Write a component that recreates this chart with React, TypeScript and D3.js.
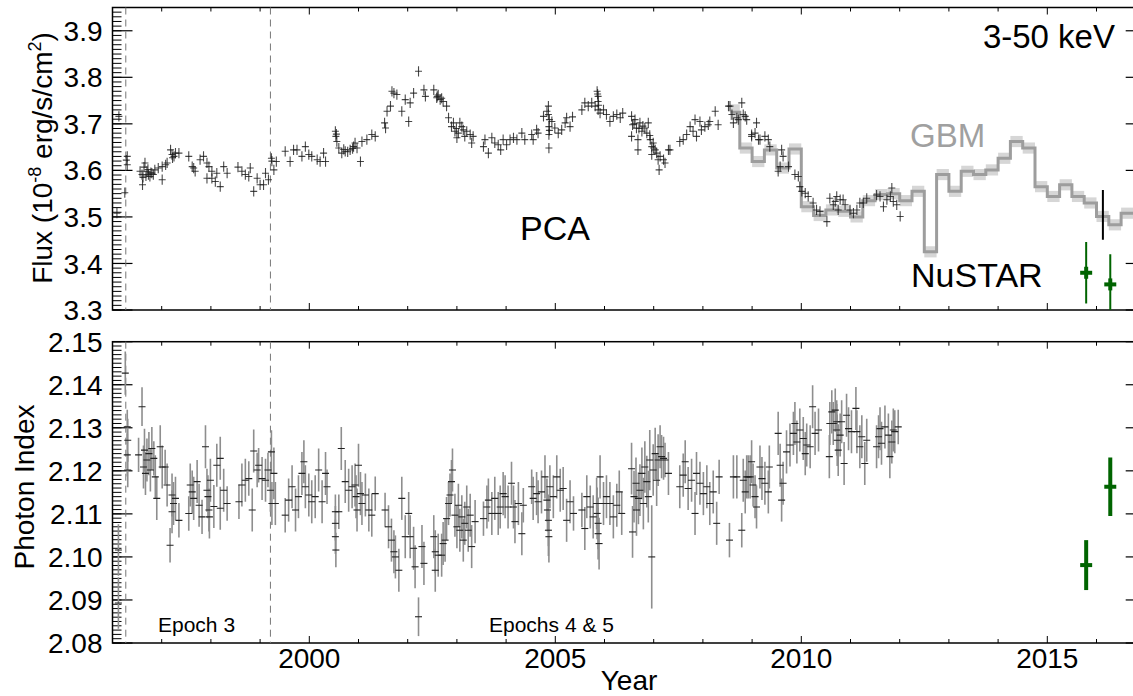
import React, { useEffect, useRef } from 'react';
import * as d3 from 'd3';

const W = 1133;
const H = 696;
const FONT = '"Liberation Sans", Arial, Helvetica, sans-serif';

// PCA 3-50 keV flux: [year, flux (1e-8 erg/s/cm2)]
const pcaFlux: [number, number][] = [
  [1996.13, 3.716], [1996.09, 3.508], [1996.30, 3.630], [1996.28, 3.622], [1996.30, 3.612], [1996.25, 3.552],
  [1996.56, 3.598], [1996.60, 3.591], [1996.61, 3.569], [1996.64, 3.607], [1996.66, 3.616], [1996.70, 3.598],
  [1996.73, 3.591], [1996.76, 3.587], [1996.80, 3.594], [1996.83, 3.591], [1996.86, 3.601], [1996.93, 3.605],
  [1997.01, 3.580], [1997.01, 3.608], [1997.08, 3.612], [1997.11, 3.616], [1996.62, 3.585], [1996.68, 3.588],
  [1996.72, 3.602], [1996.78, 3.595],
  [1997.18, 3.644], [1997.21, 3.634], [1997.25, 3.630], [1997.28, 3.637], [1997.35, 3.637], [1997.22, 3.627],
  [1997.55, 3.630], [1997.62, 3.608], [1997.65, 3.605], [1997.68, 3.598], [1997.78, 3.623], [1997.85, 3.630],
  [1997.92, 3.616], [1997.96, 3.608], [1997.92, 3.583], [1998.02, 3.583], [1998.09, 3.576], [1998.19, 3.565],
  [1998.02, 3.598], [1998.12, 3.594], [1998.26, 3.608], [1998.33, 3.594],
  [1998.55, 3.607], [1998.63, 3.598], [1998.70, 3.591], [1998.77, 3.587], [1998.80, 3.605], [1998.87, 3.555],
  [1998.94, 3.583], [1999.00, 3.569], [1999.07, 3.569], [1999.11, 3.594], [1999.17, 3.580], [1999.23, 3.626],
  [1999.24, 3.620], [1999.28, 3.601], [1999.33, 3.619],
  [1999.51, 3.641], [1999.61, 3.619], [1999.68, 3.644], [1999.75, 3.644], [1999.85, 3.630], [1999.92, 3.651],
  [1999.99, 3.634], [2000.05, 3.630], [2000.16, 3.623], [2000.22, 3.619], [2000.29, 3.637], [2000.33, 3.619],
  [2000.53, 3.684], [2000.54, 3.673], [2000.56, 3.662], [2000.55, 3.678], [2000.60, 3.648], [2000.66, 3.637],
  [2000.73, 3.641], [2000.83, 3.644], [2000.90, 3.651], [2000.93, 3.659], [2000.97, 3.648], [2001.04, 3.619],
  [2001.07, 3.662], [2001.17, 3.666], [2001.27, 3.677], [2001.34, 3.673], [2000.70, 3.645], [2000.78, 3.640],
  [2000.88, 3.647],
  [2001.53, 3.702], [2001.55, 3.691], [2001.58, 3.727], [2001.65, 3.738], [2001.68, 3.770], [2001.72, 3.766],
  [2001.78, 3.763], [2001.88, 3.727], [2001.95, 3.752], [2002.02, 3.705], [2002.05, 3.745], [2002.12, 3.766],
  [2002.22, 3.813], [2002.33, 3.773], [2002.36, 3.759], [2002.53, 3.773], [2002.60, 3.759], [2002.66, 3.752],
  [2002.59, 3.756], [2002.72, 3.748], [2002.79, 3.738], [2002.83, 3.713], [2002.89, 3.694], [2002.93, 3.702],
  [2002.96, 3.684], [2003.00, 3.670], [2003.06, 3.702], [2003.10, 3.694], [2003.13, 3.687], [2003.16, 3.673],
  [2003.20, 3.684], [2003.27, 3.677], [2003.30, 3.659], [2003.33, 3.673], [2002.62, 3.762], [2002.69, 3.755],
  [2002.99, 3.690], [2003.03, 3.680],
  [2003.54, 3.651], [2003.57, 3.666], [2003.64, 3.637], [2003.71, 3.670], [2003.77, 3.659], [2003.84, 3.655],
  [2003.89, 3.644], [2003.94, 3.666], [2004.01, 3.655], [2004.08, 3.666], [2004.15, 3.670], [2004.22, 3.666],
  [2004.32, 3.680], [2004.38, 3.666], [2004.52, 3.677], [2004.55, 3.666], [2004.62, 3.687], [2004.65, 3.680],
  [2004.76, 3.716], [2004.83, 3.727], [2004.86, 3.738], [2004.88, 3.709], [2004.87, 3.694], [2004.87, 3.677],
  [2004.87, 3.648], [2004.86, 3.720], [2004.88, 3.686], [2004.93, 3.705], [2004.99, 3.691], [2005.06, 3.680],
  [2005.13, 3.687], [2005.20, 3.702], [2005.23, 3.713], [2005.30, 3.694], [2005.35, 3.715],
  [2005.54, 3.730], [2005.60, 3.745], [2005.67, 3.738], [2005.74, 3.745], [2005.81, 3.738], [2005.85, 3.770],
  [2005.87, 3.759], [2005.87, 3.748], [2005.87, 3.730], [2005.86, 3.764], [2005.88, 3.740], [2005.91, 3.723],
  [2005.98, 3.730], [2006.04, 3.720], [2006.11, 3.705], [2006.18, 3.716], [2006.25, 3.720], [2006.32, 3.713],
  [2006.37, 3.723],
  [2006.55, 3.716], [2006.57, 3.698], [2006.55, 3.673], [2006.62, 3.709], [2006.65, 3.691], [2006.68, 3.666],
  [2006.68, 3.644], [2006.72, 3.702], [2006.76, 3.684], [2006.82, 3.691], [2006.86, 3.680], [2006.89, 3.702],
  [2006.93, 3.666], [2006.96, 3.651], [2006.99, 3.659], [2006.96, 3.634], [2007.03, 3.644], [2007.06, 3.637],
  [2007.09, 3.623], [2007.11, 3.601], [2007.13, 3.630], [2007.20, 3.623], [2007.23, 3.616], [2007.30, 3.644],
  [2007.33, 3.644], [2006.60, 3.700], [2006.70, 3.690], [2006.78, 3.695], [2006.92, 3.675], [2007.00, 3.648],
  [2007.53, 3.662], [2007.60, 3.666], [2007.67, 3.677], [2007.74, 3.694], [2007.80, 3.684], [2007.84, 3.709],
  [2007.87, 3.673], [2007.94, 3.705], [2007.97, 3.687], [2008.04, 3.694], [2008.11, 3.698], [2008.14, 3.705],
  [2008.25, 3.727], [2008.31, 3.698],
  [2008.52, 3.738], [2008.55, 3.738], [2008.59, 3.720], [2008.62, 3.702], [2008.69, 3.713], [2008.72, 3.709],
  [2008.79, 3.745], [2008.82, 3.720], [2008.86, 3.716], [2008.89, 3.709], [2008.99, 3.673], [2008.99, 3.677],
  [2009.06, 3.680], [2009.09, 3.702], [2009.13, 3.666], [2009.16, 3.666], [2009.26, 3.673], [2009.33, 3.666],
  [2009.36, 3.651],
  [2009.53, 3.598], [2009.57, 3.608], [2009.60, 3.644], [2009.63, 3.630], [2009.74, 3.608], [2009.87, 3.591],
  [2009.94, 3.587], [2009.97, 3.565], [2010.01, 3.555], [2010.08, 3.551], [2010.14, 3.544], [2010.24, 3.530],
  [2010.31, 3.515], [2010.38, 3.512],
  [2010.52, 3.490], [2010.58, 3.540], [2010.65, 3.526], [2010.69, 3.533], [2010.72, 3.544], [2010.75, 3.515],
  [2010.79, 3.537], [2010.85, 3.537], [2010.89, 3.526], [2010.99, 3.515], [2011.06, 3.508], [2011.13, 3.515],
  [2011.19, 3.530], [2011.26, 3.530], [2011.33, 3.540], [2011.53, 3.547], [2011.60, 3.544], [2011.67, 3.522],
  [2011.74, 3.537], [2011.81, 3.544], [2011.84, 3.562], [2011.87, 3.533], [2011.94, 3.526], [2012.01, 3.501],
];
const pcaFluxErr = 0.011;

// PCA photon index: [year, index, error]
const pcaIndex: [number, number, number][] = [
  [1996.12, 2.1016, 0.006], [1996.12, 2.0893, 0.006], [1996.26, 2.1427, 0.005],
  [1996.30, 2.1302, 0.004], [1996.31, 2.1271, 0.005], [1996.30, 2.1237, 0.005], [1996.31, 2.1202, 0.004],
  [1996.53, 2.1237, 0.004], [1996.60, 2.1349, 0.0045], [1996.63, 2.1209, 0.005], [1996.65, 2.1248, 0.005],
  [1996.67, 2.1194, 0.005], [1996.70, 2.1225, 0.005], [1996.74, 2.1240, 0.005], [1996.77, 2.1202, 0.005],
  [1996.80, 2.1252, 0.005], [1996.84, 2.1229, 0.004], [1996.87, 2.1186, 0.005], [1996.90, 2.1136, 0.005],
  [1996.97, 2.1256, 0.005], [1997.01, 2.1209, 0.005], [1997.07, 2.1209, 0.004], [1997.11, 2.1167, 0.005],
  [1997.17, 2.1027, 0.004], [1997.21, 2.1144, 0.005], [1997.21, 2.1105, 0.005], [1997.24, 2.1124, 0.005],
  [1997.28, 2.1136, 0.005], [1997.35, 2.1085, 0.004],
  [1997.55, 2.1101, 0.004], [1997.58, 2.1167, 0.005], [1997.62, 2.1151, 0.005], [1997.65, 2.1136, 0.005],
  [1997.72, 2.1175, 0.005], [1997.76, 2.1120, 0.005], [1997.82, 2.1093, 0.004], [1997.89, 2.1256, 0.005],
  [1997.92, 2.1155, 0.005], [1997.94, 2.1140, 0.005], [1997.96, 2.1109, 0.005], [1997.97, 2.1093, 0.005],
  [1997.99, 2.1178, 0.005], [1998.06, 2.1117, 0.005], [1998.12, 2.1213, 0.005], [1998.19, 2.1229, 0.005],
  [1998.19, 2.1113, 0.005], [1998.26, 2.1155, 0.005], [1998.33, 2.1124, 0.004],
  [1998.57, 2.1128, 0.004], [1998.63, 2.1167, 0.005], [1998.70, 2.1178, 0.005], [1998.77, 2.1182, 0.004],
  [1998.84, 2.1109, 0.005], [1998.87, 2.1246, 0.005], [1998.94, 2.1202, 0.004], [1998.97, 2.1213, 0.004],
  [1999.04, 2.1182, 0.005], [1999.11, 2.1178, 0.005], [1999.16, 2.1202, 0.004], [1999.21, 2.1155, 0.005],
  [1999.24, 2.1124, 0.005], [1999.28, 2.1194, 0.006], [1999.31, 2.1124, 0.005], [1999.23, 2.1244, 0.005],
  [1999.51, 2.1097, 0.004], [1999.58, 2.1132, 0.005], [1999.65, 2.1163, 0.005], [1999.72, 2.1109, 0.005],
  [1999.78, 2.1140, 0.005], [1999.85, 2.1194, 0.005], [1999.89, 2.1221, 0.005], [1999.92, 2.1163, 0.005],
  [1999.99, 2.1144, 0.005], [2000.05, 2.1128, 0.005], [2000.12, 2.1140, 0.005], [2000.19, 2.1202, 0.005],
  [2000.26, 2.1128, 0.005], [2000.33, 2.1194, 0.005], [2000.36, 2.1163, 0.004],
  [2000.53, 2.1105, 0.004], [2000.53, 2.1078, 0.004], [2000.53, 2.1047, 0.004], [2000.54, 2.1016, 0.004],
  [2000.60, 2.1105, 0.004], [2000.65, 2.1252, 0.005],
  [2000.73, 2.1175, 0.005], [2000.80, 2.1155, 0.005], [2000.87, 2.1163, 0.005], [2000.93, 2.1167, 0.005],
  [2000.95, 2.1140, 0.005], [2000.97, 2.1109, 0.005], [2001.00, 2.1213, 0.005], [2001.04, 2.1147, 0.005],
  [2001.07, 2.1124, 0.005], [2001.14, 2.1144, 0.005], [2001.21, 2.1109, 0.005], [2001.27, 2.1097, 0.005],
  [2001.34, 2.1147, 0.004],
  [2001.54, 2.1109, 0.004], [2001.61, 2.1070, 0.005], [2001.67, 2.1039, 0.005], [2001.72, 2.1012, 0.005],
  [2001.75, 2.1000, 0.005], [2001.82, 2.0969, 0.005], [2001.88, 2.1136, 0.005], [2001.95, 2.1047, 0.005],
  [2002.02, 2.1101, 0.005], [2002.05, 2.1047, 0.005], [2002.12, 2.1020, 0.005], [2002.15, 2.0977, 0.005],
  [2002.22, 2.0861, 0.0045], [2002.29, 2.1024, 0.005], [2002.33, 2.0985, 0.005], [2002.53, 2.1047, 0.005],
  [2002.56, 2.1012, 0.005], [2002.56, 2.0969, 0.005], [2002.62, 2.1004, 0.005], [2002.69, 2.1004, 0.005],
  [2002.72, 2.1031, 0.005], [2002.76, 2.1039, 0.005], [2002.79, 2.1089, 0.005], [2002.83, 2.1124, 0.005],
  [2002.86, 2.1144, 0.005], [2002.89, 2.1175, 0.005], [2002.91, 2.1202, 0.005], [2002.96, 2.1097, 0.005],
  [2003.00, 2.1070, 0.005], [2003.03, 2.1120, 0.005], [2003.06, 2.1062, 0.005], [2003.10, 2.1093, 0.005],
  [2003.13, 2.1039, 0.005], [2003.16, 2.1078, 0.005], [2003.20, 2.1116, 0.005], [2003.23, 2.1062, 0.005],
  [2003.27, 2.1097, 0.005], [2003.30, 2.1024, 0.005], [2003.37, 2.1082, 0.005],
  [2003.54, 2.1089, 0.004], [2003.61, 2.1116, 0.005], [2003.64, 2.1132, 0.005], [2003.71, 2.1101, 0.005],
  [2003.77, 2.1136, 0.005], [2003.84, 2.1101, 0.005], [2003.88, 2.1116, 0.005], [2003.94, 2.1147, 0.005],
  [2003.98, 2.1140, 0.005], [2004.04, 2.1116, 0.005], [2004.11, 2.1171, 0.005], [2004.15, 2.1116, 0.005],
  [2004.18, 2.1082, 0.005], [2004.25, 2.1124, 0.005], [2004.32, 2.1054, 0.005], [2004.35, 2.1120, 0.004],
  [2004.52, 2.1163, 0.004], [2004.55, 2.1136, 0.005], [2004.62, 2.1147, 0.005], [2004.65, 2.1128, 0.005],
  [2004.72, 2.1151, 0.005], [2004.79, 2.1186, 0.005], [2004.83, 2.1132, 0.005], [2004.84, 2.1109, 0.005],
  [2004.86, 2.1085, 0.006], [2004.86, 2.1062, 0.006], [2004.87, 2.1047, 0.006], [2004.89, 2.1163, 0.005],
  [2004.96, 2.1140, 0.005], [2005.03, 2.1186, 0.005], [2005.10, 2.1155, 0.005], [2005.16, 2.1159, 0.005],
  [2005.23, 2.1085, 0.005], [2005.30, 2.1128, 0.005], [2005.37, 2.1101, 0.004],
  [2005.54, 2.1109, 0.004], [2005.60, 2.1066, 0.005], [2005.64, 2.1140, 0.005], [2005.71, 2.1116, 0.005],
  [2005.77, 2.1093, 0.005], [2005.84, 2.1124, 0.006], [2005.85, 2.1101, 0.006], [2005.87, 2.1078, 0.006],
  [2005.87, 2.1054, 0.006], [2005.89, 2.1031, 0.006], [2005.91, 2.1186, 0.005], [2005.98, 2.1124, 0.005],
  [2006.04, 2.1140, 0.005], [2006.11, 2.1124, 0.005], [2006.18, 2.1093, 0.005], [2006.25, 2.1120, 0.005],
  [2006.30, 2.1151, 0.005], [2006.35, 2.1101, 0.005],
  [2006.55, 2.1205, 0.006], [2006.57, 2.1058, 0.006], [2006.60, 2.1140, 0.006], [2006.64, 2.1171, 0.006],
  [2006.65, 2.1109, 0.006], [2006.69, 2.1136, 0.006], [2006.72, 2.1155, 0.006], [2006.76, 2.1194, 0.006],
  [2006.79, 2.1124, 0.006], [2006.82, 2.1209, 0.006], [2006.86, 2.1175, 0.006], [2006.89, 2.1140, 0.006],
  [2006.92, 2.1225, 0.007], [2006.96, 2.1000, 0.012], [2006.99, 2.1202, 0.006], [2007.03, 2.1240, 0.006],
  [2007.06, 2.1178, 0.006], [2007.09, 2.1225, 0.006], [2007.13, 2.1256, 0.005], [2007.16, 2.1233, 0.005],
  [2007.20, 2.1229, 0.005], [2007.23, 2.1225, 0.004], [2007.30, 2.1194, 0.005],
  [2007.53, 2.1163, 0.005], [2007.60, 2.1190, 0.005], [2007.64, 2.1221, 0.005], [2007.70, 2.1159, 0.005],
  [2007.77, 2.1178, 0.005], [2007.84, 2.1101, 0.005], [2007.87, 2.1194, 0.005], [2007.94, 2.1171, 0.005],
  [2008.01, 2.1147, 0.005], [2008.08, 2.1163, 0.005], [2008.14, 2.1124, 0.005], [2008.21, 2.1151, 0.005],
  [2008.28, 2.1078, 0.005], [2008.33, 2.1186, 0.004],
  [2008.54, 2.1039, 0.004], [2008.62, 2.1186, 0.005], [2008.69, 2.1186, 0.005], [2008.79, 2.1062, 0.004],
  [2008.82, 2.1178, 0.005], [2008.86, 2.1151, 0.005], [2008.89, 2.1186, 0.005], [2008.92, 2.1186, 0.005],
  [2008.96, 2.1186, 0.005], [2008.99, 2.1221, 0.005], [2009.02, 2.1167, 0.005], [2009.06, 2.1140, 0.005],
  [2009.09, 2.1116, 0.005], [2009.16, 2.1209, 0.005], [2009.20, 2.1182, 0.005], [2009.26, 2.1171, 0.005],
  [2009.33, 2.1151, 0.005], [2009.35, 2.1209, 0.005],
  [2009.53, 2.1287, 0.005], [2009.57, 2.1213, 0.005], [2009.60, 2.1132, 0.005], [2009.63, 2.1171, 0.005],
  [2009.70, 2.1244, 0.005], [2009.77, 2.1260, 0.005], [2009.84, 2.1287, 0.005], [2009.87, 2.1310, 0.005],
  [2009.91, 2.1267, 0.005], [2009.97, 2.1295, 0.005], [2010.04, 2.1275, 0.005], [2010.08, 2.1240, 0.005],
  [2010.11, 2.1260, 0.005], [2010.18, 2.1256, 0.005], [2010.23, 2.1349, 0.005], [2010.28, 2.1287, 0.005],
  [2010.35, 2.1295, 0.005],
  [2010.57, 2.1233, 0.005], [2010.58, 2.1310, 0.005], [2010.62, 2.1337, 0.005], [2010.65, 2.1310, 0.005],
  [2010.69, 2.1341, 0.005], [2010.72, 2.1295, 0.006], [2010.73, 2.1271, 0.006], [2010.75, 2.1248, 0.006],
  [2010.72, 2.1314, 0.005], [2010.79, 2.1283, 0.005], [2010.82, 2.1314, 0.005], [2010.87, 2.1217, 0.005],
  [2010.92, 2.1329, 0.005], [2010.96, 2.1298, 0.005], [2011.02, 2.1291, 0.005], [2011.11, 2.1345, 0.005],
  [2011.13, 2.1291, 0.005], [2011.19, 2.1256, 0.005], [2011.23, 2.1279, 0.005], [2011.29, 2.1217, 0.005],
  [2011.33, 2.1271, 0.005],
  [2011.53, 2.1256, 0.005], [2011.57, 2.1279, 0.005], [2011.60, 2.1298, 0.005], [2011.63, 2.1264, 0.005],
  [2011.70, 2.1302, 0.005], [2011.77, 2.1283, 0.005], [2011.80, 2.1233, 0.005], [2011.84, 2.1267, 0.005],
  [2011.87, 2.1295, 0.005], [2011.90, 2.1291, 0.005], [2011.97, 2.1302, 0.004],
];

// GBM quarterly bins (edges in years) with flux and error
const gbmEdges = [
  2008.55, 2008.75, 2009.0, 2009.25, 2009.5, 2009.75, 2010.0, 2010.25, 2010.5, 2010.75, 2011.0, 2011.25,
  2011.5, 2011.75, 2012.0, 2012.25, 2012.5, 2012.75, 2013.0, 2013.25, 2013.5, 2013.75, 2014.0, 2014.25,
  2014.5, 2014.75, 2015.0, 2015.25, 2015.5, 2015.75, 2016.0, 2016.25, 2016.5, 2016.75, 2017.0,
];
const gbmFlux = [
  3.725, 3.648, 3.619, 3.644, 3.605, 3.646, 3.522, 3.503, 3.515, 3.512, 3.500, 3.535,
  3.548, 3.550, 3.535, 3.555, 3.425, 3.591, 3.555, 3.598, 3.591, 3.601, 3.626, 3.662,
  3.648, 3.565, 3.544, 3.569, 3.544, 3.530, 3.501, 3.483, 3.508, 3.508,
];
const gbmErr = [
  0.017, 0.012, 0.012, 0.012, 0.012, 0.012, 0.012, 0.012, 0.012, 0.012, 0.012, 0.012,
  0.012, 0.012, 0.012, 0.012, 0.012, 0.012, 0.012, 0.012, 0.012, 0.012, 0.012, 0.012,
  0.012, 0.012, 0.012, 0.012, 0.012, 0.012, 0.012, 0.012, 0.012, 0.012,
];
const gbmMarker = { year: 2016.13, lo: 3.451, hi: 3.558 };

// NuSTAR
const nustarYears = [2015.79, 2016.28];
const nustarFlux = [3.38, 3.355];
const nustarFluxErr = [0.066, 0.065];
const nustarIndex = [2.0981, 2.1163];
const nustarIndexErr = [0.0058, 0.0068];

const epochLines = [1996.27, 1999.21];
const fluxTicks = [3.3, 3.4, 3.5, 3.6, 3.7, 3.8, 3.9];
const indexTicks = [2.08, 2.09, 2.1, 2.11, 2.12, 2.13, 2.14, 2.15];
const yearTicks = [2000, 2005, 2010, 2015];

const App = () => {
  const svgRef = useRef<SVGSVGElement>(null);

  useEffect(() => {
    const svg = d3.select(svgRef.current);
    svg.selectAll('*').remove();

    const x = d3.scaleLinear().domain([1996, 2017]).range([112.5, 1145.7]);
    const yF = d3.scaleLinear().domain([3.3, 3.95]).range([310, 7.5]);
    const yI = d3.scaleLinear().domain([2.08, 2.15]).range([643, 341.7]);

    const defs = svg.append('defs');
    [['clipTop', yF], ['clipBot', yI]].forEach(([id, y]: any) => {
      const [b, t] = y.range();
      defs.append('clipPath').attr('id', id).append('rect')
        .attr('x', x.range()[0]).attr('y', t)
        .attr('width', x.range()[1] - x.range()[0]).attr('height', b - t);
    });

    const frame = (y: any, major: number[], minorStep: number, fmt: (v: number) => string, xLabels: boolean) => {
      const [x0, x1] = x.range();
      const [yb, yt] = y.range();
      const g = svg.append('g').attr('stroke', '#000');
      const years = d3.range(1996, 2018);
      [yb, yt].forEach((yy, k) => {
        const dir = k === 0 ? -1 : 1;
        g.selectAll(null).data(years).enter().append('line')
          .attr('x1', d => x(d)).attr('x2', d => x(d))
          .attr('y1', yy).attr('y2', d => yy + dir * (yearTicks.includes(d) ? 7 : 4))
          .attr('stroke-width', 1);
      });
      const [d0, d1] = y.domain();
      const minor = d3.range(Math.round((d1 - d0) / minorStep) + 1).map(i => d0 + i * minorStep);
      [x0, x1].forEach((xx, k) => {
        const dir = k === 0 ? 1 : -1;
        g.selectAll(null).data(minor).enter().append('line')
          .attr('x1', xx).attr('x2', xx + dir * 9)
          .attr('y1', d => y(d)).attr('y2', d => y(d)).attr('stroke-width', 1);
        g.selectAll(null).data(major).enter().append('line')
          .attr('x1', xx).attr('x2', xx + dir * 20)
          .attr('y1', d => y(d)).attr('y2', d => y(d)).attr('stroke-width', 1.2);
      });
      g.append('rect').attr('x', x0).attr('y', yt).attr('width', x1 - x0).attr('height', yb - yt)
        .attr('fill', 'none').attr('stroke-width', 1.5);
      svg.append('g').selectAll('text').data(major).enter().append('text')
        .attr('x', x0 - 10).attr('y', d => y(d)).attr('dy', '0.36em')
        .attr('text-anchor', 'end').attr('font-size', 28).attr('font-family', FONT)
        .text(fmt);
      if (xLabels) {
        svg.append('g').selectAll('text').data(yearTicks).enter().append('text')
          .attr('x', d => x(d)).attr('y', 668).attr('text-anchor', 'middle')
          .attr('font-size', 28).attr('font-family', FONT).text(d => String(d));
      }
      svg.append('g').selectAll('line').data(epochLines).enter().append('line')
        .attr('x1', d => x(d)).attr('x2', d => x(d)).attr('y1', yt).attr('y2', yb)
        .attr('stroke', '#777').attr('stroke-width', 1).attr('stroke-dasharray', '7,5');
    };

    frame(yF, fluxTicks, 0.01, d3.format('.1f'), false);
    frame(yI, indexTicks, 0.001, d3.format('.2f'), true);

    // --- top panel data
    const top = svg.append('g').attr('clip-path', 'url(#clipTop)');
    gbmFlux.forEach((f, i) => {
      top.append('rect')
        .attr('x', x(gbmEdges[i])).attr('width', x(gbmEdges[i + 1]) - x(gbmEdges[i]))
        .attr('y', yF(f + gbmErr[i])).attr('height', yF(f - gbmErr[i]) - yF(f + gbmErr[i]))
        .attr('fill', '#d6d6d6');
    });
    const stepPts: [number, number][] = gbmFlux.map((f, i) => [gbmEdges[i], f]);
    stepPts.push([gbmEdges[gbmEdges.length - 1], gbmFlux[gbmFlux.length - 1]]);
    top.append('path')
      .attr('d', d3.line<[number, number]>().x(d => x(d[0])).y(d => yF(d[1])).curve(d3.curveStepAfter)(stepPts))
      .attr('fill', 'none').attr('stroke', '#9d9d9d').attr('stroke-width', 3);

    const crosses = top.append('g').attr('stroke', '#1a1a1a').attr('stroke-opacity', 0.8).attr('stroke-width', 1.1);
    pcaFlux.forEach(([t, f]) => {
      crosses.append('line').attr('x1', x(t) - 3.5).attr('x2', x(t) + 3.5).attr('y1', yF(f)).attr('y2', yF(f));
      crosses.append('line').attr('x1', x(t)).attr('x2', x(t)).attr('y1', yF(f - pcaFluxErr)).attr('y2', yF(f + pcaFluxErr));
    });

    top.append('line')
      .attr('x1', x(gbmMarker.year)).attr('x2', x(gbmMarker.year))
      .attr('y1', yF(gbmMarker.lo)).attr('y2', yF(gbmMarker.hi))
      .attr('stroke', '#000').attr('stroke-width', 2);

    nustarYears.forEach((t, i) => {
      const cx = x(t), cy = yF(nustarFlux[i]);
      top.append('line').attr('x1', cx).attr('x2', cx)
        .attr('y1', yF(nustarFlux[i] - nustarFluxErr[i])).attr('y2', yF(nustarFlux[i] + nustarFluxErr[i]))
        .attr('stroke', '#006400').attr('stroke-width', 2);
      top.append('line').attr('x1', cx - 6).attr('x2', cx + 6).attr('y1', cy).attr('y2', cy)
        .attr('stroke', '#006400').attr('stroke-width', 4);
      top.append('line').attr('x1', cx).attr('x2', cx).attr('y1', cy - 6).attr('y2', cy + 6)
        .attr('stroke', '#006400').attr('stroke-width', 4);
    });

    // --- bottom panel data
    const bot = svg.append('g').attr('clip-path', 'url(#clipBot)');
    pcaIndex.forEach(([t, v, e]) => {
      bot.append('line').attr('x1', x(t)).attr('x2', x(t)).attr('y1', yI(v - e)).attr('y2', yI(v + e))
        .attr('stroke', '#8e8e8e').attr('stroke-width', 1.6);
    });
    pcaIndex.forEach(([t, v]) => {
      bot.append('line').attr('x1', x(t) - 3.5).attr('x2', x(t) + 3.5).attr('y1', yI(v)).attr('y2', yI(v))
        .attr('stroke', '#222').attr('stroke-width', 1.1);
    });
    nustarYears.forEach((t, i) => {
      const cx = x(t), cy = yI(nustarIndex[i]);
      bot.append('line').attr('x1', cx).attr('x2', cx)
        .attr('y1', yI(nustarIndex[i] - nustarIndexErr[i])).attr('y2', yI(nustarIndex[i] + nustarIndexErr[i]))
        .attr('stroke', '#006400').attr('stroke-width', 4);
      bot.append('line').attr('x1', cx - 6).attr('x2', cx + 6).attr('y1', cy).attr('y2', cy)
        .attr('stroke', '#006400').attr('stroke-width', 4);
    });

    // --- labels
    const label = (tx: number, ty: number, s: string, size: number, color = '#000', anchor = 'start') =>
      svg.append('text').attr('x', tx).attr('y', ty).attr('font-size', size).attr('font-family', FONT)
        .attr('fill', color).attr('text-anchor', anchor).text(s);
    label(1115, 48, '3-50 keV', 33, '#000', 'end');
    label(910, 147, 'GBM', 33, '#a0a0a0');
    label(520, 240, 'PCA', 34);
    label(911, 287, 'NuSTAR', 34);
    label(158, 632, 'Epoch 3', 21);
    label(489, 632, 'Epochs 4 & 5', 21);
    label(629, 690, 'Year', 28, '#000', 'middle');

    const fl = svg.append('text').attr('transform', 'translate(52,158) rotate(-90)')
      .attr('text-anchor', 'middle').attr('font-size', 28).attr('font-family', FONT);
    fl.append('tspan').text('Flux (10');
    fl.append('tspan').attr('font-size', 18).attr('dy', -11).text('-8');
    fl.append('tspan').attr('dy', 11).text(' erg/s/cm');
    fl.append('tspan').attr('font-size', 18).attr('dy', -11).text('2');
    fl.append('tspan').attr('dy', 11).text(')');

    svg.append('text').attr('transform', 'translate(34,487) rotate(-90)')
      .attr('text-anchor', 'middle').attr('font-size', 28).attr('font-family', FONT).text('Photon Index');
  }, []);

  return (
    <svg ref={svgRef} width={W} height={H}
      style={{ position: 'absolute', left: 0, top: 0, background: '#fff', display: 'block' }} />
  );
};

export default App;
